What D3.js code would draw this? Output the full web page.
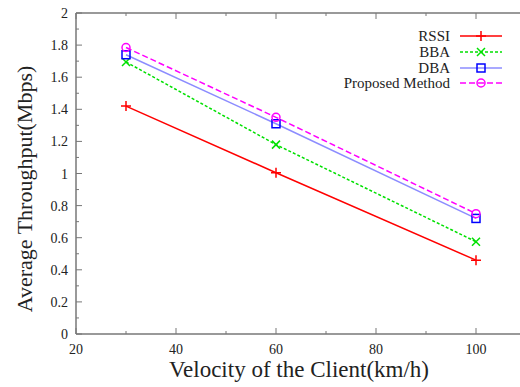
<!DOCTYPE html>
<html>
  <head>
    <meta charset="utf-8">
    <script src="https://d3js.org/d3.v7.min.js"></script>
    <style>
    body { margin: 0; background-color: #fff; }
    svg { display: block; font-family: "Liberation Serif", "DejaVu Serif", serif; }
    </style>
  </head>
  <body>
    <script>
      // data
      const velocity = [30, 60, 100]
      const seriesNames = ['RSSI', 'BBA', 'DBA', 'Proposed Method']
      const rssi = [1.42, 1.005, 0.46]
      const bba = [1.695, 1.18, 0.575]
      const dba = [1.74, 1.31, 0.72]
      const proposed = [1.785, 1.35, 0.75]
      const xTicks = [20, 40, 60, 80, 100]
      const yTicks = [0, 0.2, 0.4, 0.6, 0.8, 1, 1.2, 1.4, 1.6, 1.8, 2]

      const w = 520, h = 387
      const m = {left: 76, top: 13, right: -6, bottom: 53}

      const svg = d3.select('body').append('svg')
                    .attr('width', w).attr('height', h)

      const x = d3.scaleLinear().domain([20, 110]).range([m.left, w - m.right])
      const y = d3.scaleLinear().domain([0, 2]).range([h - m.bottom, m.top])

      const styles = [
        {color: '#ff0000', line: '#ff0000', dash: null, mark: 'plus'},
        {color: '#00e000', line: '#00e000', dash: '3,2', mark: 'cross'},
        {color: '#0000ff', line: '#8c8cff', dash: null, mark: 'square'},
        {color: '#ff00ff', line: '#ff00ff', dash: '6,3', mark: 'circle'}
      ]
      const values = [rssi, bba, dba, proposed]

      // frame
      const axisColor = '#777'
      svg.append('line').attr('x1', x(20)).attr('x2', w).attr('y1', y(0)).attr('y2', y(0))
         .attr('stroke', axisColor).attr('stroke-width', 1.5)
      svg.append('line').attr('x1', x(20)).attr('x2', w).attr('y1', y(2)).attr('y2', y(2))
         .attr('stroke', axisColor).attr('stroke-width', 1.5)
      svg.append('line').attr('x1', x(20)).attr('x2', x(20)).attr('y1', y(0)).attr('y2', y(2))
         .attr('stroke', axisColor).attr('stroke-width', 1.5)

      // y ticks (major + minor, pointing inward)
      d3.range(0, 2.01, 0.1).forEach((v, i) => {
        let len = i % 2 === 0 ? 6 : 3
        svg.append('line').attr('x1', x(20)).attr('x2', x(20) + len)
           .attr('y1', y(v)).attr('y2', y(v))
           .attr('stroke', axisColor).attr('stroke-width', 1)
      })
      svg.selectAll('.ylab').data(yTicks).enter().append('text')
         .attr('x', x(20) - 8).attr('y', d => y(d) + 5)
         .attr('text-anchor', 'end').attr('font-size', 14).attr('fill', '#222')
         .text(d => d)

      // x ticks top and bottom
      d3.range(20, 111, 10).forEach((v, i) => {
        let len = i % 2 === 0 ? 6 : 3
        svg.append('line').attr('x1', x(v)).attr('x2', x(v))
           .attr('y1', y(0)).attr('y2', y(0) - len)
           .attr('stroke', axisColor).attr('stroke-width', 1)
        svg.append('line').attr('x1', x(v)).attr('x2', x(v))
           .attr('y1', y(2)).attr('y2', y(2) + len)
           .attr('stroke', axisColor).attr('stroke-width', 1)
      })
      svg.selectAll('.xlab').data(xTicks).enter().append('text')
         .attr('x', d => x(d)).attr('y', y(0) + 20)
         .attr('text-anchor', 'middle').attr('font-size', 14).attr('fill', '#222')
         .text(d => d)

      // axis titles
      svg.append('text').attr('x', 299).attr('y', 377)
         .attr('text-anchor', 'middle').attr('font-size', 23).attr('fill', '#222')
         .text('Velocity of the Client(km/h)')
      svg.append('text')
         .attr('transform', `translate(32, 189) rotate(-90)`)
         .attr('text-anchor', 'middle').attr('font-size', 22).attr('fill', '#222')
         .text('Average Throughput(Mbps)')

      function marker(g, type, cx, cy, color) {
        if (type === 'plus') {
          g.append('path').attr('d', `M${cx-5},${cy}H${cx+5}M${cx},${cy-5}V${cy+5}`)
           .attr('stroke', color).attr('stroke-width', 1.5)
        } else if (type === 'cross') {
          g.append('path').attr('d', `M${cx-4},${cy-4}L${cx+4},${cy+4}M${cx-4},${cy+4}L${cx+4},${cy-4}`)
           .attr('stroke', color).attr('stroke-width', 1.5)
        } else if (type === 'square') {
          g.append('rect').attr('x', cx - 4).attr('y', cy - 4).attr('width', 8).attr('height', 8)
           .attr('fill', 'none').attr('stroke', color).attr('stroke-width', 1.5)
        } else {
          g.append('circle').attr('cx', cx).attr('cy', cy).attr('r', 4)
           .attr('fill', 'none').attr('stroke', color).attr('stroke-width', 1.5)
        }
      }

      const line = d3.line().x((d, i) => x(velocity[i])).y(d => y(d))

      values.forEach((vals, s) => {
        let st = styles[s]
        let g = svg.append('g')
        g.append('path').datum(vals).attr('d', line)
         .attr('fill', 'none').attr('stroke', st.line).attr('stroke-width', 1.5)
         .attr('stroke-dasharray', st.dash)
        vals.forEach((v, i) => marker(g, st.mark, x(velocity[i]), y(v), st.color))
      })

      // legend
      const legY = [36, 52, 68, 83]
      seriesNames.forEach((name, s) => {
        let st = styles[s]
        let g = svg.append('g')
        g.append('text').attr('x', 450).attr('y', legY[s] + 5)
         .attr('text-anchor', 'end').attr('font-size', 15).attr('fill', '#222')
         .text(name)
        g.append('line').attr('x1', 460).attr('x2', 502)
         .attr('y1', legY[s]).attr('y2', legY[s])
         .attr('stroke', st.line).attr('stroke-width', 1.5)
         .attr('stroke-dasharray', st.dash)
        marker(g, st.mark, 481, legY[s], st.color)
      })
    </script>
  </body>
</html>
